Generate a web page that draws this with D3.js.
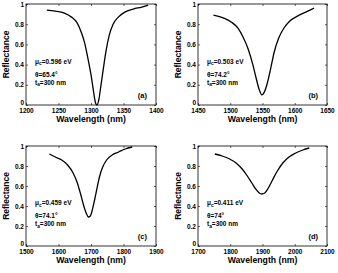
<!DOCTYPE html>
<html><head><meta charset="utf-8">
<script src="https://cdn.jsdelivr.net/npm/d3@7/dist/d3.min.js"></script>
<style>
html,body{margin:0;padding:0;background:#fff;}
svg{display:block;font-family:"Liberation Sans",Arial,sans-serif;font-weight:bold;}
</style></head>
<body>
<svg id="chart" width="338" height="273"></svg>
<script>
// ---- data ----
const panelIds = ["a", "b", "c", "d"];
const xDomains = [[1200, 1400], [1450, 1650], [1500, 1900], [1700, 2100]];
const xTicks = [
  [1200, 1250, 1300, 1350, 1400],
  [1450, 1500, 1550, 1600, 1650],
  [1500, 1600, 1700, 1800, 1900],
  [1700, 1800, 1900, 2000, 2100]
];
const yTicks = [0, 0.2, 0.4, 0.6, 0.8, 1];
const muLabels = ["0.596 eV", "0.503 eV", "0.459 eV", "0.411 eV"];
const thetaLabels = ["65.4°", "74.2°", "74.1°", "74°"];
const tLabel = "300 nm";

const wlA = [1232,1245,1259,1270,1278,1285,1290,1295,1300,1304,1307,1309,1312,1315,1319,1323,1328,1334,1342,1352,1365,1378,1388];
const rA  = [0.94,0.93,0.91,0.87,0.82,0.72,0.62,0.47,0.30,0.13,0.02,0.00,0.05,0.18,0.36,0.53,0.69,0.80,0.87,0.92,0.95,0.97,0.99];

const wlB = [1474,1490,1502,1512,1520,1528,1535,1540,1545,1549,1553,1558,1563,1568,1575,1583,1592,1604,1617,1630];
const rB  = [0.89,0.86,0.82,0.76,0.67,0.55,0.40,0.27,0.15,0.10,0.13,0.23,0.37,0.52,0.66,0.76,0.83,0.88,0.92,0.96];

const wlC = [1572,1590,1610,1628,1645,1658,1668,1677,1685,1692,1698,1704,1711,1718,1726,1736,1748,1765,1785,1805,1827];
const rC  = [0.92,0.89,0.86,0.81,0.73,0.63,0.52,0.41,0.33,0.29,0.30,0.36,0.46,0.57,0.69,0.79,0.86,0.91,0.94,0.97,0.99];

const wlD = [1752,1775,1798,1818,1837,1853,1867,1879,1890,1898,1907,1918,1931,1946,1963,1982,2003,2025,2045];
const rD  = [0.92,0.90,0.87,0.83,0.77,0.70,0.63,0.57,0.53,0.52,0.53,0.58,0.66,0.75,0.83,0.89,0.93,0.96,0.98];

const wls = [wlA, wlB, wlC, wlD];
const rs = [rA, rB, rC, rD];

// ---- layout ----
const boxes = [
  {x0: 26, x1: 156, y0: 4, y1: 105},
  {x0: 198, x1: 327, y0: 4, y1: 105},
  {x0: 26, x1: 156, y0: 146, y1: 246},
  {x0: 198, x1: 327, y0: 146, y1: 246}
];

const svg = d3.select("#chart");

panelIds.forEach((id, i) => {
  const b = boxes[i];
  const x = d3.scaleLinear().domain(xDomains[i]).range([b.x0, b.x1]);
  const y = d3.scaleLinear().domain([0, 1]).range([b.y1, b.y0]);
  const g = svg.append("g");

  // frame
  g.append("rect").attr("x", b.x0).attr("y", b.y0)
    .attr("width", b.x1 - b.x0).attr("height", b.y1 - b.y0)
    .attr("fill", "none").attr("stroke", "#000").attr("stroke-width", 0.8);

  // axes
  const xa = g.append("g").attr("transform", `translate(0,${b.y1})`)
    .call(d3.axisBottom(x).tickValues(xTicks[i]).tickSize(-2).tickPadding(3).tickFormat(d3.format("d")));
  const ya = g.append("g").attr("transform", `translate(${b.x0},0)`)
    .call(d3.axisLeft(y).tickValues(yTicks).tickSize(-2).tickPadding(2).tickFormat(d => d === 0 ? "0" : d === 1 ? "1" : d3.format(".1f")(d)));
  g.append("g").attr("transform", `translate(0,${b.y0})`)
    .call(d3.axisTop(x).tickValues(xTicks[i]).tickSize(-2).tickFormat(""));
  g.append("g").attr("transform", `translate(${b.x1},0)`)
    .call(d3.axisRight(y).tickValues(yTicks).tickSize(-2).tickFormat(""));
  g.selectAll(".domain").remove();
  g.selectAll(".tick line").attr("stroke", "#000").attr("stroke-width", 0.6);
  xa.selectAll("text").attr("font-size", 6.5).attr("font-weight", "bold").attr("fill", "#000");
  ya.selectAll("text").attr("font-size", 6.5).attr("font-weight", "bold").attr("fill", "#000");
  // lift the "0" label so it sits just above the x tick labels
  ya.selectAll(".tick").filter(d => d === 0).select("text").attr("dy", "-0.05em");

  // axis titles
  g.append("text").attr("x", (b.x0 + b.x1) / 2).attr("y", b.y1 + 17)
    .attr("text-anchor", "middle").attr("font-size", 8.7).text("Wavelength (nm)");
  g.append("text").attr("transform", `translate(${b.x0 - 17},${(b.y0 + b.y1) / 2}) rotate(-90)`)
    .attr("text-anchor", "middle").attr("font-size", 8.5).text("Reflectance");

  // curve
  const pts = wls[i].map((w, k) => [w, rs[i][k]]);
  g.append("path").datum(pts)
    .attr("fill", "none").attr("stroke", "#000").attr("stroke-width", 1.3)
    .attr("d", d3.line().x(d => x(d[0])).y(d => y(d[1])).curve(d3.curveMonotoneX));

  // annotations
  const ax = b.x0 + 9;
  const t1 = g.append("text").attr("x", ax).attr("y", y(0.41)).attr("font-size", 6.5);
  t1.append("tspan").text("μ");
  t1.append("tspan").attr("font-size", 4.8).attr("dy", 1.5).text("c");
  t1.append("tspan").attr("dy", -1.5).text("=" + muLabels[i]);
  g.append("text").attr("x", ax).attr("y", y(0.28)).attr("font-size", 6.5).text("θ=" + thetaLabels[i]);
  const t3 = g.append("text").attr("x", ax).attr("y", y(0.2)).attr("font-size", 6.5);
  t3.append("tspan").text("t");
  t3.append("tspan").attr("font-size", 4.8).attr("dy", 1.5).text("a");
  t3.append("tspan").attr("dy", -1.5).text("=" + tLabel);
  g.append("text").attr("x", b.x1 - 9).attr("y", y(0.07)).attr("text-anchor", "end")
    .attr("font-size", 7.5).text("(" + id + ")");
});
</script>
</body></html>
